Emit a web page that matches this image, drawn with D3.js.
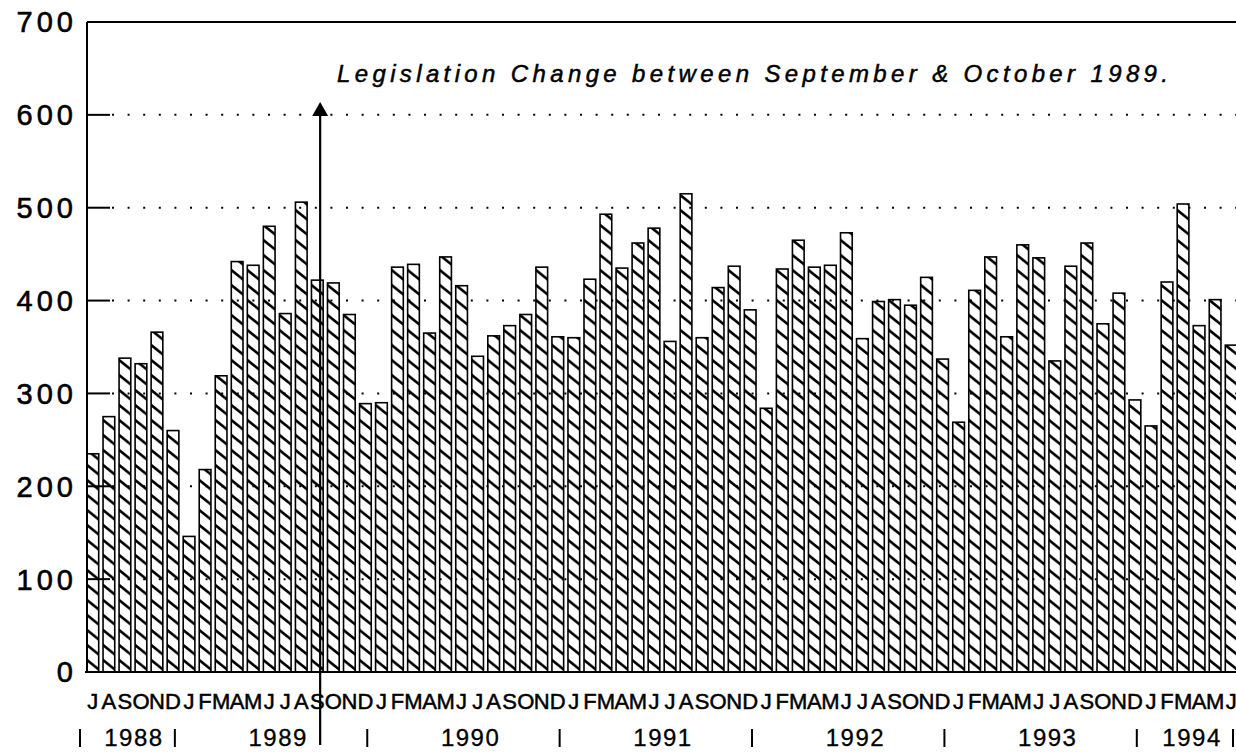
<!DOCTYPE html>
<html>
<head>
<meta charset="utf-8">
<script src="https://cdn.jsdelivr.net/npm/d3@7"></script>
<style>
  body { margin: 0; background: #fff; }
  svg { display: block; font-family: "Liberation Sans", Arial, Helvetica, sans-serif; }
</style>
</head>
<body>
<div id="chart"></div>
<script>
// monthly counts, July 1988 - June 1994
const years = ["1988", "1989", "1990", "1991", "1992", "1993", "1994"];
const monthLetters = ["J", "F", "M", "A", "M", "J", "J", "A", "S", "O", "N", "D"];
const counts1988 = [235, 275, 338, 332, 366, 260]; // Jul-Dec
const counts1989 = [146, 218, 319, 442, 438, 480, 386, 506, 422, 419, 385, 289];
const counts1990 = [290, 436, 439, 365, 447, 416, 340, 362, 373, 385, 436, 361];
const counts1991 = [360, 423, 493, 435, 462, 478, 356, 515, 360, 414, 437, 390];
const counts1992 = [284, 434, 465, 436, 438, 473, 359, 399, 401, 395, 425, 337];
const counts1993 = [269, 411, 447, 361, 460, 446, 335, 437, 462, 375, 408, 293];
const counts1994 = [265, 420, 504, 373, 401, 352]; // Jan-Jun
const yTicks = [0, 100, 200, 300, 400, 500, 600, 700];
const gridTicks = [100, 200, 300, 400, 500, 600];
const noteText = "Legislation Change between September & October 1989.";

const width = 1236, height = 755;

// flatten into one list of months
const yearCounts = [counts1988, counts1989, counts1990, counts1991, counts1992, counts1993, counts1994];
let data = [];
yearCounts.forEach((arr, yi) => {
    const firstMonth = (yi == 0) ? 6 : 0;
    arr.forEach((v, i) => {
        data.push({ id: years[yi] + "-" + (firstMonth + i), year: years[yi], letter: monthLetters[firstMonth + i], value: v });
    });
});

const x = d3.scaleBand()
    .domain(data.map(d => d.id))
    .range([87, 1237])
    .paddingInner(0.27)
    .paddingOuter(0);

const y = d3.scaleLinear()
    .domain([0, 700])
    .range([672, 22]);

const svg = d3.select("#chart").append("svg")
    .attr("width", width)
    .attr("height", height);

// hatch pattern, one tile per bar step
const bw = x.bandwidth();
const pat = svg.append("defs").append("pattern")
    .attr("id", "hatch")
    .attr("patternUnits", "userSpaceOnUse")
    .attr("x", x(data[0].id))
    .attr("y", 0)
    .attr("width", x.step())
    .attr("height", 15);
[-1, 0, 1].forEach(k => {
    pat.append("line")
        .attr("x1", -1).attr("y1", k * 15 - 0.8)
        .attr("x2", bw + 1).attr("y2", k * 15 + bw * 0.8 + 0.8)
        .attr("stroke", "#000")
        .attr("stroke-width", 2.6);
});

// dotted grid + tick stubs
svg.append("g").selectAll("line")
    .data(gridTicks).enter()
    .append("line")
    .attr("x1", 112).attr("x2", width)
    .attr("y1", d => y(d)).attr("y2", d => y(d))
    .attr("stroke", "#000")
    .attr("stroke-width", 2)
    .attr("stroke-dasharray", "2,13.6");
svg.append("g").selectAll("line")
    .data(gridTicks).enter()
    .append("line")
    .attr("x1", 87).attr("x2", 110)
    .attr("y1", d => y(d)).attr("y2", d => y(d))
    .attr("stroke", "#000")
    .attr("stroke-width", 2);

// bars
svg.append("g").selectAll("rect")
    .data(data).enter()
    .append("rect")
    .attr("x", d => x(d.id))
    .attr("y", d => y(d.value))
    .attr("width", bw)
    .attr("height", d => y(0) - y(d.value))
    .attr("fill", "url(#hatch)")
    .attr("stroke", "#000")
    .attr("stroke-width", 1.6);

// frame: left axis, top line, baseline
svg.append("line").attr("x1", 87).attr("x2", 87).attr("y1", y(700)).attr("y2", y(0))
    .attr("stroke", "#000").attr("stroke-width", 2);
svg.append("line").attr("x1", 87).attr("x2", width).attr("y1", y(700)).attr("y2", y(700))
    .attr("stroke", "#000").attr("stroke-width", 2);
svg.append("line").attr("x1", 85).attr("x2", width).attr("y1", y(0)).attr("y2", y(0))
    .attr("stroke", "#000").attr("stroke-width", 2);

// y labels
svg.append("g").selectAll("text")
    .data(yTicks).enter()
    .append("text")
    .attr("x", 77)
    .attr("y", d => y(d))
    .attr("dy", "0.36em")
    .attr("text-anchor", "end")
    .attr("font-size", 29)
    .attr("letter-spacing", 4)
    .attr("stroke", "#000")
    .attr("stroke-width", 0.6)
    .text(d => d);

// month letters, overlapping like the original
svg.append("g").selectAll("text")
    .data(data).enter()
    .append("text")
    .attr("x", d => x(d.id) + bw / 2)
    .attr("y", 709)
    .attr("text-anchor", "middle")
    .attr("font-size", 22)
    .attr("stroke", "#000")
    .attr("stroke-width", 0.5)
    .text(d => d.letter);

// year labels and separators
const yearSpan = years.map(yr => {
    const ms = data.filter(d => d.year == yr);
    return { year: yr, x0: x(ms[0].id), x1: x(ms[ms.length - 1].id) + bw };
});
svg.append("g").selectAll("text")
    .data(yearSpan).enter()
    .append("text")
    .attr("x", d => (d.x0 + d.x1) / 2 + 1)
    .attr("y", 746)
    .attr("text-anchor", "middle")
    .attr("font-size", 24)
    .attr("letter-spacing", 1.5)
    .attr("stroke", "#000")
    .attr("stroke-width", 0.3)
    .text(d => d.year);
const sepX = [yearSpan[0].x0 - 7].concat(yearSpan.map(d => d.x1 - 4));
svg.append("g").selectAll("line")
    .data(sepX).enter()
    .append("line")
    .attr("x1", d => d).attr("x2", d => d)
    .attr("y1", 729).attr("y2", 747)
    .attr("stroke", "#000")
    .attr("stroke-width", 2);

// legislation change arrow (after September 1989)
const sep89 = data.find(d => d.year == "1989" && d.letter == "S");
const ax = x(sep89.id) + bw - 3;
svg.append("line")
    .attr("x1", ax).attr("x2", ax)
    .attr("y1", 745).attr("y2", 110)
    .attr("stroke", "#000")
    .attr("stroke-width", 2.2);
svg.append("path")
    .attr("d", "M" + ax + ",102 L" + (ax - 8) + ",116 L" + (ax + 8) + ",116 Z")
    .attr("fill", "#000");

svg.append("text")
    .attr("x", 337)
    .attr("y", 82)
    .attr("font-size", 24)
    .attr("font-style", "italic")
    .attr("stroke", "#000")
    .attr("stroke-width", 0.5)
    .attr("textLength", 831)
    .attr("lengthAdjust", "spacing")
    .text(noteText);
</script>
</body>
</html>
